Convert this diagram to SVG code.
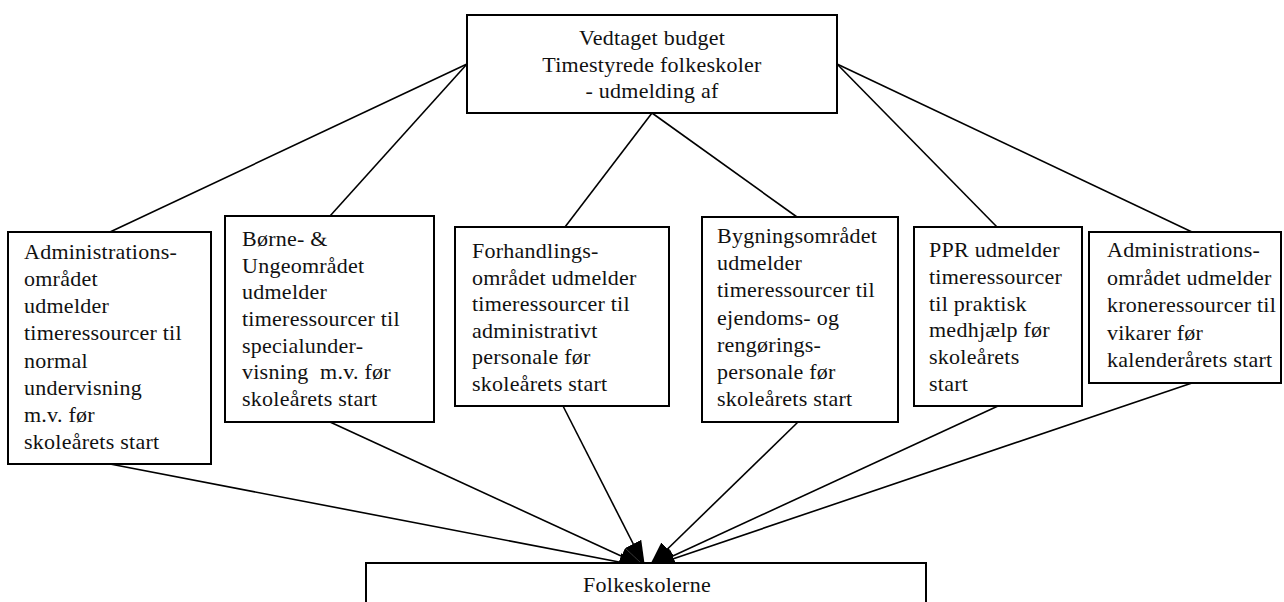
<svg xmlns="http://www.w3.org/2000/svg" width="1284" height="602" viewBox="0 0 1284 602">
<style>
.box{fill:#fff;stroke:#000;stroke-width:2}
.t{font-family:"Liberation Serif","Times New Roman",serif;font-size:22px;letter-spacing:0.25px;fill:#111}
.c{text-anchor:middle}
.ln{stroke:#000;stroke-width:1.6;fill:none}
</style>
<defs>
<marker id="ah" markerUnits="userSpaceOnUse" markerWidth="28" markerHeight="22" refX="26" refY="11" orient="auto">
<path d="M0,2 L26,11 L0,20 z" fill="#000"/>
</marker>
</defs>
<rect width="1284" height="602" fill="#fff"/>
<g id="connectors">
<line class="ln" x1="467" y1="64" x2="110" y2="232"/>
<line class="ln" x1="467" y1="64" x2="330" y2="216"/>
<line class="ln" x1="652" y1="113" x2="565" y2="227"/>
<line class="ln" x1="652" y1="113" x2="797" y2="217"/>
<line class="ln" x1="837" y1="64" x2="997" y2="227"/>
<line class="ln" x1="837" y1="64" x2="1192" y2="232"/>
<line class="ln" x1="110" y1="464" x2="645" y2="567" marker-end="url(#ah)"/>
<line class="ln" x1="330" y1="422" x2="645" y2="567" marker-end="url(#ah)"/>
<line class="ln" x1="563" y1="406" x2="645" y2="567" marker-end="url(#ah)"/>
<line class="ln" x1="798" y1="422" x2="649" y2="567" marker-end="url(#ah)"/>
<line class="ln" x1="998" y1="406" x2="649" y2="567" marker-end="url(#ah)"/>
<line class="ln" x1="1192" y1="383" x2="649" y2="567" marker-end="url(#ah)"/>
</g>
<g id="top">
<rect class="box" x="467" y="15" width="370" height="98"/>
<text class="t c" x="652" y="45">Vedtaget budget</text>
<text class="t c" x="652" y="72">Timestyrede folkeskoler</text>
<text class="t c" x="652" y="98">- udmelding af</text>
</g>
<g id="n1">
<rect class="box" x="8" y="232" width="203" height="232"/>
<text class="t" x="24" y="259">Administrations-</text>
<text class="t" x="24" y="286">området</text>
<text class="t" x="24" y="313">udmelder</text>
<text class="t" x="24" y="340">timeressourcer til</text>
<text class="t" x="24" y="368">normal</text>
<text class="t" x="24" y="395">undervisning</text>
<text class="t" x="24" y="422">m.v. før</text>
<text class="t" x="24" y="449">skoleårets start</text>
</g>
<g id="n2">
<rect class="box" x="225" y="216" width="209" height="206"/>
<text class="t" x="242" y="246">Børne- &amp;</text>
<text class="t" x="242" y="273">Ungeområdet</text>
<text class="t" x="242" y="299">udmelder</text>
<text class="t" x="242" y="326">timeressourcer til</text>
<text class="t" x="242" y="353">specialunder-</text>
<text class="t" x="242" y="379" xml:space="preserve">visning  m.v. før</text>
<text class="t" x="242" y="406">skoleårets start</text>
</g>
<g id="n3">
<rect class="box" x="455" y="227" width="214" height="179"/>
<text class="t" x="472" y="258">Forhandlings-</text>
<text class="t" x="472" y="285">området udmelder</text>
<text class="t" x="472" y="311">timeressourcer til</text>
<text class="t" x="472" y="338">administrativt</text>
<text class="t" x="472" y="364">personale før</text>
<text class="t" x="472" y="391">skoleårets start</text>
</g>
<g id="n4">
<rect class="box" x="702" y="217" width="196" height="205"/>
<text class="t" x="717" y="243">Bygningsområdet</text>
<text class="t" x="717" y="270">udmelder</text>
<text class="t" x="717" y="297">timeressourcer til</text>
<text class="t" x="717" y="325">ejendoms- og</text>
<text class="t" x="717" y="352">rengørings-</text>
<text class="t" x="717" y="379">personale før</text>
<text class="t" x="717" y="406">skoleårets start</text>
</g>
<g id="n5">
<rect class="box" x="914" y="227" width="168" height="179"/>
<text class="t" x="929" y="257">PPR udmelder</text>
<text class="t" x="929" y="284">timeressourcer</text>
<text class="t" x="929" y="311">til praktisk</text>
<text class="t" x="929" y="337">medhjælp før</text>
<text class="t" x="929" y="364">skoleårets</text>
<text class="t" x="929" y="391">start</text>
</g>
<g id="n6">
<rect class="box" x="1089" y="232" width="192" height="151"/>
<text class="t" x="1107" y="257">Administrations-</text>
<text class="t" x="1107" y="285">området udmelder</text>
<text class="t" x="1107" y="312">kroneressourcer til</text>
<text class="t" x="1107" y="340">vikarer før</text>
<text class="t" x="1107" y="367">kalenderårets start</text>
</g>
<g id="bottom">
<rect class="box" x="366" y="563" width="560" height="80"/>
<text class="t c" x="647" y="592">Folkeskolerne</text>
</g>
</svg>
